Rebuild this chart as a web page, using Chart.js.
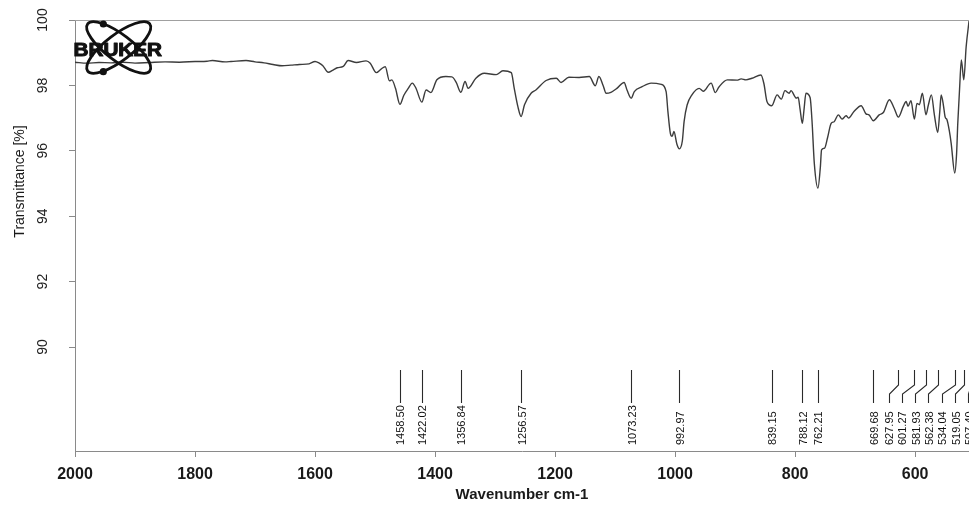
<!DOCTYPE html>
<html><head><meta charset="utf-8">
<script src="https://cdn.jsdelivr.net/npm/chart.js@4.4.1/dist/chart.umd.min.js"></script>
<style>html,body{margin:0;padding:0;background:#fff;overflow:hidden}canvas{display:block}</style>
</head><body>
<canvas id="c" width="969" height="506" style="width:969px;height:506px"></canvas>
<script>
// ---- data ----
const wavenumbers = [2000,1980,1960,1940,1920,1900,1876,1850,1826,1800,1780,1771,1750,1740,1715,1700,1685,1670,1655,1640,1626,1610,1600,1593,1587,1578,1570,1563,1553,1545,1531,1515,1508,1498,1490,1483,1476,1472,1466,1458.5,1452,1445,1438,1432,1422,1415,1407,1397,1382,1372,1365,1357,1350,1345,1332,1318,1298,1287,1273,1268,1262,1256.6,1251,1240,1232,1215,1198,1190,1177,1160,1143,1133,1127,1120,1115,1107,1097,1085,1080,1073.2,1068,1055,1040,1023,1015,1012,1008,1005,1002,997,993,988,985,980,972,960,953,940,933,927,913,897,890,882,872,857,852,847,839,830,823,817,810,807,798,795,792,788,785,782,775,772,768,762,758,756,751,746,740,735,728,722,715,711,702,690,682,677,669.7,660,653,643,635,628,620,615,612,607,601.3,597,593,588,582,578,573,568,562.4,559,556.7,553,550,547,543,540,534,531,529,526,523,519,515,510];
const transmittance = [98.71,98.68,98.70,98.69,98.71,98.68,98.70,98.72,98.71,98.73,98.74,98.76,98.72,98.73,98.76,98.72,98.69,98.64,98.60,98.62,98.64,98.66,98.73,98.68,98.60,98.40,98.47,98.54,98.58,98.76,98.70,98.75,98.68,98.39,98.50,98.57,98.14,98.17,97.91,97.42,97.70,97.90,98.07,97.92,97.49,97.86,97.78,98.17,98.27,98.26,98.10,97.79,98.12,97.91,98.22,98.37,98.33,98.45,98.39,97.90,97.35,97.05,97.41,97.76,97.86,98.15,98.22,98.09,98.25,98.24,98.27,97.99,98.27,98.00,97.76,97.79,97.91,98.09,97.85,97.61,97.81,97.96,98.07,98.03,97.81,97.20,96.54,96.44,96.59,96.20,96.06,96.30,96.90,97.40,97.71,97.91,97.82,98.07,97.78,97.95,98.17,98.16,98.20,98.17,98.22,98.32,98.05,97.51,97.38,97.71,97.58,97.84,97.76,97.84,97.61,97.64,97.30,96.84,97.30,97.76,97.62,96.95,95.60,94.86,95.50,96.03,96.08,96.40,96.84,96.89,97.10,96.97,97.07,97.00,97.20,97.38,97.13,97.10,96.92,97.10,97.17,97.56,97.30,97.03,97.35,97.51,97.36,97.53,96.97,97.45,97.41,97.76,97.10,97.40,97.71,97.10,96.56,97.20,97.71,97.40,97.03,96.95,96.60,96.23,95.32,95.90,96.84,97.90,98.78,98.17,99.19,100.0];
const peakPositions = [1458.50,1422.02,1356.84,1256.57,1073.23,992.97,839.15,788.12,762.21,669.68,627.95,601.27,581.93,562.38,534.04,519.05,507.40];
const peakLabels = ["1458.50","1422.02","1356.84","1256.57","1073.23","992.97","839.15","788.12","762.21","669.68","627.95","601.27","581.93","562.38","534.04","519.05","507.40"];
const xTickValues = [2000,1800,1600,1400,1200,1000,800,600];
const yTickValues = [90,92,94,96,98,100];
const xTitle = "Wavenumber cm-1";
const yTitle = "Transmittance [%]";
const logoText = "BRUKER";

const FONT = '"Liberation Sans", Arial, Helvetica, sans-serif';
const AXIS = '#8a8a8a';

const decor = {
  id: 'decor',
  afterDraw(chart) {
    const ctx = chart.ctx, a = chart.chartArea, xs = chart.scales.x, ys = chart.scales.y;
    ctx.save();
    // top frame line
    ctx.strokeStyle = '#a0a0a0'; ctx.lineWidth = 1;
    ctx.beginPath(); ctx.moveTo(a.left, a.top + 0.5); ctx.lineTo(a.right, a.top + 0.5); ctx.stroke();

    // y tick labels (rotated)
    ctx.fillStyle = '#222'; ctx.font = '14px ' + FONT;
    ctx.textAlign = 'center'; ctx.textBaseline = 'alphabetic';
    ys.ticks.forEach(t => {
      const py = ys.getPixelForValue(t.value);
      ctx.save(); ctx.translate(47, py); ctx.rotate(-Math.PI / 2);
      ctx.fillText(String(t.value), 0, 0); ctx.restore();
    });
    // y title
    ctx.save(); ctx.translate(24, 181.5); ctx.rotate(-Math.PI / 2);
    ctx.fillStyle = '#1a1a1a'; ctx.font = '14px ' + FONT;
    ctx.fillText(yTitle, 0, 0); ctx.restore();

    // peak markers
    const px = peakPositions.map(v => xs.getPixelForValue(v));
    const order = px.map((p, i) => i).sort((i, j) => px[i] - px[j]);
    const lx = new Array(px.length);
    const gap = 13.3;
    let limit = a.right - 0.7;
    for (let k = order.length - 1; k >= 0; k--) {
      const i = order[k];
      lx[i] = Math.min(px[i], limit);
      limit = lx[i] - gap;
    }
    ctx.strokeStyle = '#2a2a2a'; ctx.lineWidth = 1.1;
    for (let i = 0; i < px.length; i++) {
      ctx.beginPath();
      const p = Math.round(px[i]) + 0.5, l = Math.round(lx[i]) + 0.5;
      if (Math.abs(px[i] - lx[i]) < 0.6) {
        ctx.moveTo(p, 370); ctx.lineTo(p, 403);
      } else {
        ctx.moveTo(p, 370); ctx.lineTo(p, 385); ctx.lineTo(l, 394); ctx.lineTo(l, 403);
      }
      ctx.stroke();
    }
    ctx.fillStyle = '#111'; ctx.font = '11px ' + FONT;
    ctx.textAlign = 'left'; ctx.textBaseline = 'alphabetic';
    for (let i = 0; i < px.length; i++) {
      ctx.save(); ctx.translate(lx[i] + 4.5, 445); ctx.rotate(-Math.PI / 2);
      ctx.fillText(peakLabels[i], 0, 0); ctx.restore();
    }

    // logo
    const cx = 118.7, cy = 47.5, ra = 39, rb = 13, th = 37.3 * Math.PI / 180;
    ctx.strokeStyle = '#111'; ctx.lineWidth = 2.8;
    ctx.beginPath(); ctx.ellipse(cx, cy, ra, rb, th, 0, Math.PI * 2); ctx.stroke();
    ctx.beginPath(); ctx.ellipse(cx, cy, ra, rb, -th, 0, Math.PI * 2); ctx.stroke();
    ctx.fillStyle = '#111';
    ctx.beginPath(); ctx.arc(103.3, 24, 3.6, 0, Math.PI * 2); ctx.fill();
    ctx.beginPath(); ctx.arc(103.3, 71.7, 3.6, 0, Math.PI * 2); ctx.fill();
    ctx.save(); ctx.translate(73.5, 55.5); ctx.scale(1.15, 1);
    ctx.font = 'bold 18px ' + FONT; ctx.textAlign = 'left'; ctx.textBaseline = 'alphabetic';
    ctx.lineWidth = 1; ctx.strokeStyle = '#111'; ctx.lineJoin = 'round';
    ctx.fillText(logoText, 0, 0); ctx.strokeText(logoText, 0, 0); ctx.restore();
    ctx.restore();
  }
};

new Chart(document.getElementById('c'), {
  type: 'line',
  data: {
    datasets: [{
      data: wavenumbers.map((w, i) => ({ x: w, y: transmittance[i] })),
      borderColor: '#3c3c3c',
      borderWidth: 1.4,
      pointRadius: 0,
      cubicInterpolationMode: 'monotone',
      fill: false
    }]
  },
  options: {
    responsive: false,
    animation: false,
    devicePixelRatio: 1,
    layout: { padding: { top: 20, right: 0, left: 0, bottom: 0 } },
    plugins: { legend: { display: false }, tooltip: { enabled: false } },
    scales: {
      x: {
        type: 'linear', reverse: true, min: 510.3, max: 2000,
        afterBuildTicks: s => { s.ticks = xTickValues.map(v => ({ value: v })); },
        afterFit: s => { s.height = 55; },
        ticks: { color: '#1a1a1a', font: { family: FONT, size: 16, weight: 'bold' }, padding: 8, maxRotation: 0, callback: v => String(v) },
        grid: { drawOnChartArea: false, drawTicks: true, tickLength: 6, color: AXIS },
        border: { display: true, color: AXIS, width: 1 },
        title: { display: true, text: xTitle, color: '#1a1a1a', font: { family: FONT, size: 15, weight: 'bold' }, padding: { top: 0, bottom: 2 } }
      },
      y: {
        type: 'linear', min: 86.82, max: 100,
        afterBuildTicks: s => { s.ticks = yTickValues.map(v => ({ value: v })); },
        afterFit: s => { s.width = 75; },
        ticks: { display: false },
        grid: { drawOnChartArea: false, drawTicks: true, tickLength: 6, color: AXIS },
        border: { display: true, color: AXIS, width: 1 }
      }
    }
  },
  plugins: [decor]
});
</script>
</body></html>
